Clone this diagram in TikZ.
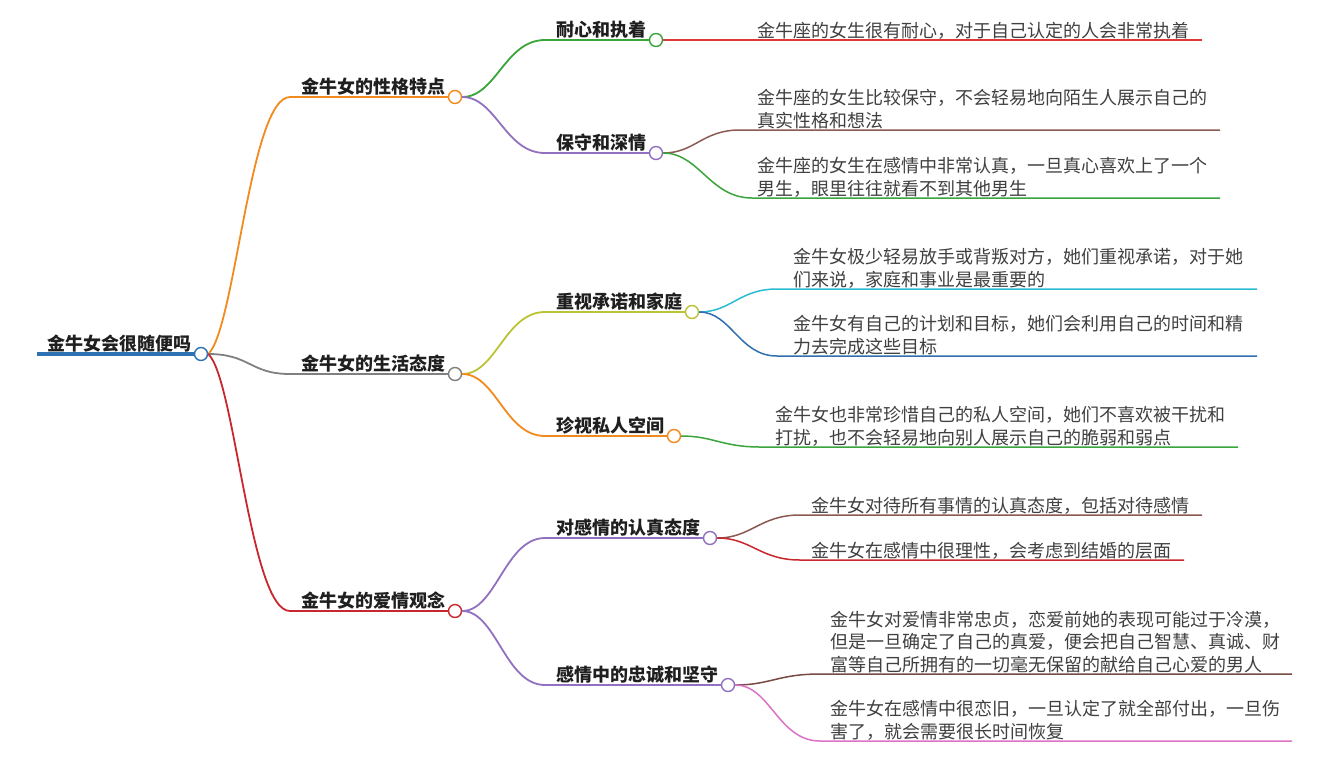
\documentclass[tikz,border=0pt]{standalone}
\usepackage{fontspec}
\newfontfamily\cjk{Noto Sans CJK SC}
\definecolor{cblue}{HTML}{2E72B3}
\definecolor{corange}{HTML}{F28A1E}
\definecolor{cgray}{HTML}{808080}
\definecolor{cred}{HTML}{C8282D}
\definecolor{cgreen}{HTML}{3AA53A}
\definecolor{cpurple}{HTML}{9170C0}
\definecolor{cbrown}{HTML}{8C5A52}
\definecolor{cyell}{HTML}{BCC332}
\definecolor{ccyan}{HTML}{2BBCD4}
\definecolor{cdblue}{HTML}{2F6FAF}
\definecolor{clred}{HTML}{DC3A3A}
\definecolor{cpink}{HTML}{DC72C6}
\begin{document}
\begin{tikzpicture}[x=1pt,y=-1pt,
  dot/.style={circle, draw, fill=white, line width=1.4pt, minimum size=13pt, inner sep=0pt},
  lab/.style={anchor=base west, inner sep=0pt, font=\cjk\bfseries\fontsize{18}{22}\selectfont, text=black!88},
  leaf/.style={anchor=south west, inner sep=0pt, text depth=0pt, align=left, font=\cjk\fontsize{18}{22.5}\selectfont, text=black!75, yshift=-1.5pt},
  br/.style={line width=1.8pt},
  lf/.style={line width=1.5pt}]
\useasboundingbox (0,0) rectangle (1336,756);
\fill[white] (0,0) rectangle (1336,756);

% root
\coordinate (rs) at (37,354);
\node[lab] (rl) at (47,350) {金牛女会很随便吗};
\draw[cblue, line width=4pt] (rs) -- (195,354) coordinate (re);
\node[dot, draw=cblue] (root) at (201,354) {};

% level 1
\node[lab] (al) at (301,93) {金牛女的性格特点};
\node[lab] (bl) at (301,370) {金牛女的生活态度};
\node[lab] (cl) at (301,607) {金牛女的爱情观念};
\coordinate (as) at (290,97);
\coordinate (bs) at (290,374);
\coordinate (cs) at (290,611);
\node[dot, draw=corange] (a) at (455,97) {};
\node[dot, draw=cgray] (b) at (455,374) {};
\node[dot, draw=cred] (c) at (455,611) {};
\draw[br, corange] (root.east) .. controls (235,330) and (250,97) .. (as) -- (a.west);
\draw[br, cgray] (root.east) .. controls (250,354) and (250,374) .. (bs) -- (b.west);
\draw[br, cred] (root.east) .. controls (235,378) and (250,611) .. (cs) -- (c.west);

% level 2
\node[lab] (a1l) at (556,36.5) {耐心和执着};
\node[lab] (a2l) at (556,149) {保守和深情};
\node[lab] (b1l) at (556,308) {重视承诺和家庭};
\node[lab] (b2l) at (556,432) {珍视私人空间};
\node[lab] (c1l) at (556,534) {对感情的认真态度};
\node[lab] (c2l) at (556,681) {感情中的忠诚和坚守};
\node[dot, draw=cgreen] (a1) at (656,40) {};
\node[dot, draw=cpurple] (a2) at (656,153) {};
\node[dot, draw=cyell] (b1) at (692,312) {};
\node[dot, draw=corange] (b2) at (674,436) {};
\node[dot, draw=cpurple] (c1) at (710,538) {};
\node[dot, draw=cpurple] (c2) at (728,685) {};
\coordinate (a1s) at (545,40);
\coordinate (a2s) at (545,153);
\coordinate (b1s) at (545,312);
\coordinate (b2s) at (545,436);
\coordinate (c1s) at (545,538);
\coordinate (c2s) at (545,685);
\draw[br, cgreen] (a.east) .. controls +(34,0) and +(-40,0) .. (a1s) -- (a1.west);
\draw[br, cpurple] (a.east) .. controls +(34,0) and +(-40,0) .. (a2s) -- (a2.west);
\draw[br, cyell] (b.east) .. controls +(34,0) and +(-40,0) .. (b1s) -- (b1.west);
\draw[br, corange] (b.east) .. controls +(34,0) and +(-40,0) .. (b2s) -- (b2.west);
\draw[br, cpurple] (c.east) .. controls +(34,0) and +(-40,0) .. (c1s) -- (c1.west);
\draw[br, cpurple] (c.east) .. controls +(34,0) and +(-40,0) .. (c2s) -- (c2.west);

% leaves
\node[leaf] (t1) at (757,36) {金牛座的女生很有耐心，对于自己认定的人会非常执着};
\node[leaf] (t2) at (757,126) {金牛座的女生比较保守，不会轻易地向陌生人展示自己的\\真实性格和想法};
\node[leaf] (t3) at (757,194) {金牛座的女生在感情中非常认真，一旦真心喜欢上了一个\\男生，眼里往往就看不到其他男生};
\node[leaf] (t4) at (793,285) {金牛女极少轻易放手或背叛对方，她们重视承诺，对于她\\们来说，家庭和事业是最重要的};
\node[leaf] (t5) at (793,352) {金牛女有自己的计划和目标，她们会利用自己的时间和精\\力去完成这些目标};
\node[leaf] (t6) at (775,443) {金牛女也非常珍惜自己的私人空间，她们不喜欢被干扰和\\打扰，也不会轻易地向别人展示自己的脆弱和弱点};
\node[leaf] (t7) at (811,511) {金牛女对待所有事情的认真态度，包括对待感情};
\node[leaf] (t8) at (811,556) {金牛女在感情中很理性，会考虑到结婚的层面};
\node[leaf] (t9) at (830,670) {金牛女对爱情非常忠贞，恋爱前她的表现可能过于冷漠，\\但是一旦确定了自己的真爱，便会把自己智慧、真诚、财\\富等自己所拥有的一切毫无保留的献给自己心爱的男人};
\node[leaf] (t10) at (830,737) {金牛女在感情中很恋旧，一旦认定了就全部付出，一旦伤\\害了，就会需要很长时间恢复};

\coordinate (e1) at (1202,40);
\coordinate (s2) at (740,130);  \coordinate (e2) at (1220,130);
\coordinate (s3) at (752,198);  \coordinate (e3) at (1220,198);
\coordinate (s4) at (777,289);  \coordinate (e4) at (1257,289);
\coordinate (s5) at (777,356);  \coordinate (e5) at (1257,356);
\coordinate (s6) at (760,447);  \coordinate (e6) at (1238,447);
\coordinate (s7) at (800,515);  \coordinate (e7) at (1202,515);
\coordinate (s8) at (800,560);  \coordinate (e8) at (1184,560);
\coordinate (s9) at (820,674);  \coordinate (e9) at (1292,674);
\coordinate (s10) at (820,741); \coordinate (e10) at (1292,741);

\draw[lf, clred] (a1.east) -- (e1);
\draw[lf, cbrown] (a2.east) .. controls +(32,0) and +(-38,0) .. (s2) -- (e2);
\draw[lf, cgreen] (a2.east) .. controls +(36,0) and +(-42,0) .. (s3) -- (e3);
\draw[lf, ccyan] (b1.east) .. controls +(32,0) and +(-38,0) .. (s4) -- (e4);
\draw[lf, cdblue] (b1.east) .. controls +(32,0) and +(-38,0) .. (s5) -- (e5);
\draw[lf, cgreen] (b2.east) .. controls +(32,0) and +(-38,0) .. (s6) -- (e6);
\draw[lf, cbrown] (c1.east) .. controls +(34,0) and +(-40,0) .. (s7) -- (e7);
\draw[lf, cred] (c1.east) .. controls +(34,0) and +(-40,0) .. (s8) -- (e8);
\draw[lf, cbrown!85!black] (c2.east) .. controls +(35,0) and +(-42,0) .. (s9) -- (e9);
\draw[lf, cpink] (c2.east) .. controls +(35,0) and +(-42,0) .. (s10) -- (e10);
\end{tikzpicture}
\end{document}
